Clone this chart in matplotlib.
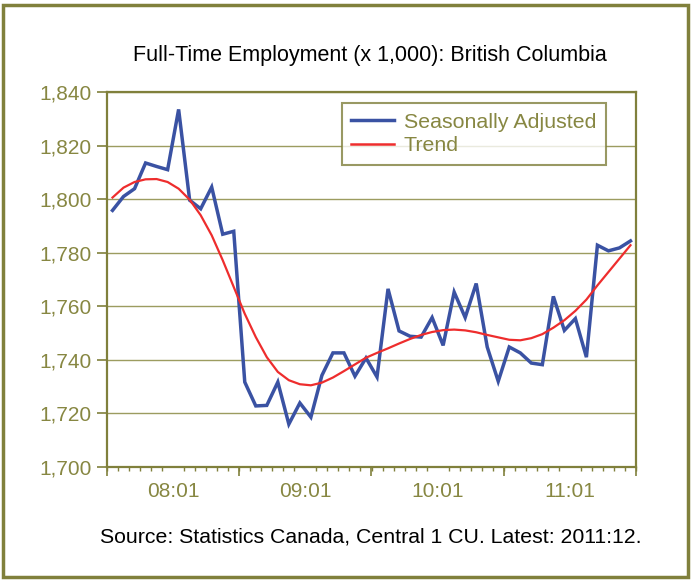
import matplotlib
matplotlib.use("Agg")
import matplotlib.pyplot as plt
from matplotlib.patches import Rectangle
from matplotlib.ticker import FuncFormatter

# ---------------- data ----------------
years = [2008, 2009, 2010, 2011]
months = [f"{y}:{m:02d}" for y in years for m in range(1, 13)]
year_labels = ["08:01", "09:01", "10:01", "11:01"]

seasonally_adjusted = [
    1795.8, 1801.0, 1803.9, 1813.5, 1812.2, 1811.0, 1833.5, 1799.6, 1796.4, 1804.5, 1786.9, 1788.0,
    1731.7, 1722.8, 1723.0, 1731.7, 1716.0, 1723.9, 1718.6, 1734.2, 1742.6, 1742.6, 1733.9, 1740.7,
    1733.6, 1766.5, 1750.8, 1748.8, 1748.5, 1755.8, 1745.4, 1765.3, 1755.8, 1768.5, 1744.8, 1732.0,
    1744.8, 1742.6, 1738.8, 1738.2, 1763.7, 1751.0, 1755.4, 1741.0, 1782.8, 1780.7, 1781.8, 1784.4,
]
trend = [
    1800.6, 1804.3, 1806.4, 1807.4, 1807.5, 1806.4, 1803.9, 1799.8, 1794.0, 1786.5, 1777.2, 1767.2,
    1757.2, 1748.5, 1741.0, 1735.5, 1732.4, 1730.9, 1730.5, 1731.5, 1733.4, 1735.8, 1738.3, 1740.8,
    1742.6, 1744.3, 1746.1, 1747.8, 1749.3, 1750.4, 1751.1, 1751.3, 1751.0, 1750.3, 1749.3, 1748.4,
    1747.5, 1747.3, 1748.1, 1749.6, 1752.0, 1754.8, 1758.3, 1762.5, 1767.8, 1772.8, 1777.8, 1782.8,
]
y_ticks = [1700, 1720, 1740, 1760, 1780, 1800, 1820, 1840]

# ---------------- style ----------------
OLIVE = "#80803c"
OLIVE_TXT = "#878742"
GRID = "#9c9c60"
BLUE = "#3a52a3"
RED = "#ee2d2d"

plt.rcParams["font.family"] = ["Liberation Sans", "DejaVu Sans"]

fig = plt.figure(figsize=(6.91, 5.81), dpi=100)
ax = fig.add_axes([107 / 691, 1 - 467 / 581, (636 - 107) / 691, (467 - 92) / 581])

x = list(range(len(months)))
ax.plot(x, seasonally_adjusted, color=BLUE, lw=2.5, solid_joinstyle="miter",
        label="Seasonally Adjusted", zorder=3)
ax.plot(x, trend, color=RED, lw=1.6, label="Trend", zorder=4)

ax.set_xlim(-0.5, len(months) - 0.5)
ax.set_ylim(y_ticks[0], y_ticks[-1])

# y axis
ax.set_yticks(y_ticks)
ax.yaxis.set_major_formatter(FuncFormatter(lambda v, p: f"{int(v):,}"))
ax.tick_params(axis="y", direction="out", length=7.5, width=1.2, color=OLIVE,
               labelcolor=OLIVE_TXT, labelsize=15, pad=3.5)
ax.grid(axis="y", color=GRID, lw=1.0, zorder=1)

# x axis: labels at year centres, month ticks, longer year ticks
centres = [12 * i + 5.5 for i in range(len(year_labels))]
ax.set_xticks(centres)
ax.set_xticklabels(year_labels)
ax.tick_params(axis="x", which="major", length=0, labelcolor=OLIVE_TXT,
               labelsize=15, pad=11)
ax.set_xticks([i - 0.5 for i in range(len(months) + 1)], minor=True)
ax.tick_params(axis="x", which="minor", direction="out", length=3.2, width=1.0,
               color=OLIVE)
sec = ax.secondary_xaxis("bottom")
sec.set_xticks([12 * i - 0.5 for i in range(len(year_labels) + 1)])
sec.set_xticklabels([""] * (len(year_labels) + 1))
sec.tick_params(axis="x", direction="out", length=6.5, width=1.2, color=OLIVE)
sec.spines["bottom"].set_visible(False)

for s in ax.spines.values():
    s.set_color(OLIVE)
    s.set_linewidth(1.6)

leg = ax.legend(loc="upper right", bbox_to_anchor=(606 / 691, 1 - 103 / 581),
                bbox_transform=fig.transFigure, borderaxespad=0, fancybox=False,
                frameon=True, edgecolor=OLIVE, fontsize=15.4, handlelength=2.0,
                handletextpad=0.45, labelspacing=0.22, borderpad=0.45)
leg.get_frame().set_linewidth(1.5)
for t in leg.get_texts():
    t.set_color(OLIVE_TXT)
for h in leg.get_lines():
    h.set_linewidth(2.5 if h.get_color() == BLUE else 1.8)

fig.text(370 / 691, 1 - 55 / 581, "Full-Time Employment (x 1,000): British Columbia",
         ha="center", va="center", fontsize=15.5, color="black")
fig.text(371 / 691, 1 - 537 / 581, "Source: Statistics Canada, Central 1 CU. Latest: 2011:12.",
         ha="center", va="center", fontsize=15.3, color="black")

fig.patches.append(Rectangle((3 / 691, 4 / 581), 685 / 691, 572 / 581,
                             transform=fig.transFigure, fill=False,
                             edgecolor=OLIVE, lw=2.5))

fig.savefig("out.png", dpi=100)
